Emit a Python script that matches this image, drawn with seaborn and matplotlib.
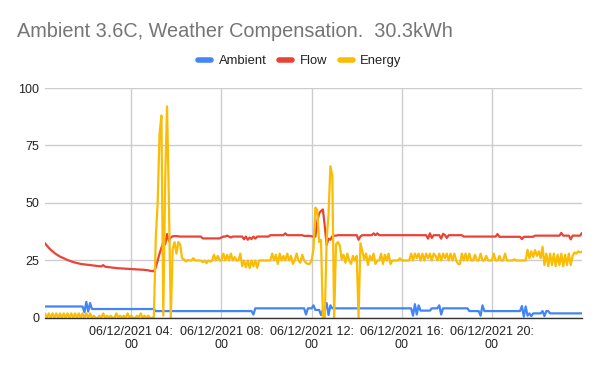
import numpy as np
import pandas as pd
import seaborn as sns
import matplotlib.pyplot as plt

# 5-minute readings from 00:10 to 24:00, one row per clock hour
ambient = [
    5.0, 5.0, 5.0, 5.0, 5.0, 5.0, 5.0, 5.0, 5.0, 5.0,
    5.0, 5.0, 5.0, 5.0, 5.0, 5.0, 5.0, 5.0, 5.0, 5.0, 5.0, 2.5,
    7.0, 2.8, 6.5, 3.9, 3.9, 3.9, 3.9, 3.9, 3.9, 3.9, 3.9, 3.9,
    3.9, 3.9, 3.9, 3.9, 3.9, 3.9, 3.9, 3.9, 3.9, 3.9, 3.9, 3.9,
    3.9, 3.9, 3.9, 3.9, 3.9, 3.9, 3.9, 3.9, 3.9, 3.9, 3.9, 3.9,
    3.9, 3.0, 3.0, 3.0, 3.0, 3.0, 3.0, 3.0, 3.0, 3.0, 3.0, 3.0,
    3.0, 3.0, 3.0, 3.0, 3.0, 3.0, 3.0, 3.0, 3.0, 3.0, 3.0, 3.0,
    3.0, 3.0, 3.0, 3.0, 3.0, 3.0, 3.0, 3.0, 3.0, 3.0, 3.0, 3.0,
    3.0, 3.0, 3.0, 3.0, 3.0, 3.0, 3.0, 3.0, 3.0, 3.0, 3.0, 3.0,
    3.0, 3.0, 3.0, 3.0, 3.0, 1.5, 4.2, 4.2, 4.2, 4.2, 4.2, 4.2,
    4.2, 4.2, 4.2, 4.2, 4.2, 4.2, 4.2, 4.2, 4.2, 4.2, 4.2, 4.2,
    4.2, 4.2, 4.2, 4.2, 4.2, 4.2, 4.2, 4.2, 4.2, 1.5, 4.2, 4.2,
    4.2, 5.5, 3.5, 3.5, 3.5, 1.3, 3.5, 3.5, 6.5, 1.3, 5.5, 4.2,
    4.2, 4.2, 4.2, 4.2, 4.2, 4.2, 4.2, 4.2, 4.2, 4.2, 4.2, 4.2,
    4.2, 4.2, 4.2, 4.2, 4.2, 4.2, 4.2, 4.2, 4.2, 4.2, 4.2, 4.2,
    4.2, 4.2, 4.2, 4.2, 4.2, 4.2, 4.2, 4.2, 4.2, 4.2, 4.2, 4.2,
    4.2, 4.2, 4.2, 4.2, 4.2, 4.2, 1.0, 6.0, 1.5, 5.5, 3.2, 3.2,
    3.2, 3.2, 3.2, 3.2, 4.2, 4.2, 4.2, 4.2, 5.5, 1.5, 4.2, 4.2,
    4.2, 4.2, 4.2, 4.2, 4.2, 4.2, 4.2, 4.2, 4.2, 4.2, 4.2, 4.2,
    3.0, 3.0, 3.0, 3.0, 3.0, 3.0, 1.0, 5.5, 3.0, 3.0, 3.0, 3.0,
    3.0, 3.0, 3.0, 3.0, 3.0, 3.0, 3.0, 3.0, 3.0, 3.0, 3.0, 3.0,
    3.0, 3.0, 3.0, 3.0, 5.2, 0.6, 5.0, 1.0, 2.0, 0.8, 2.0, 2.0,
    2.0, 2.0, 2.0, 3.0, 0.8, 3.0, 3.0, 2.0, 2.0, 2.0, 2.0, 2.0,
    2.0, 2.0, 2.0, 2.0, 2.0, 2.0, 2.0, 2.0, 2.0, 2.0, 2.0, 2.0,
    2.0,
]

flow = [
    32.5, 31.5, 30.5, 29.7, 29.0, 28.3, 27.7, 27.2, 26.7, 26.3,
    26.0, 25.6, 25.2, 24.9, 24.6, 24.3, 24.1, 23.9, 23.7, 23.5, 23.4, 23.3,
    23.2, 23.1, 23.0, 22.9, 22.8, 22.7, 22.6, 22.5, 22.4, 23.0, 22.3, 22.2,
    22.1, 22.0, 21.9, 21.8, 21.7, 21.6, 21.6, 21.5, 21.5, 21.4, 21.4, 21.3,
    21.3, 21.2, 21.2, 21.1, 21.1, 21.0, 21.0, 20.9, 20.8, 20.7, 20.5, 20.4,
    20.3, 22.0, 25.0, 28.0, 30.5, 33.0, 32.0, 36.5, 33.5, 35.0, 35.5, 35.6,
    35.6, 35.5, 35.4, 35.4, 35.4, 35.4, 35.4, 35.4, 35.4, 35.4, 35.4, 35.4,
    35.4, 35.4, 34.6, 34.6, 34.6, 34.6, 34.6, 34.6, 34.6, 34.6, 34.6, 34.6,
    35.0, 35.4, 35.4, 35.8, 35.4, 35.0, 35.4, 35.4, 35.4, 35.4, 35.4, 35.4,
    34.2, 35.4, 34.0, 35.0, 34.3, 35.4, 34.5, 35.4, 35.4, 35.4, 35.4, 35.4,
    35.4, 35.4, 36.0, 36.0, 36.0, 36.0, 36.0, 36.0, 36.0, 36.0, 36.8, 36.0,
    36.0, 36.0, 36.0, 36.0, 36.0, 36.0, 36.0, 36.0, 35.7, 35.7, 35.7, 35.7,
    35.5, 35.4, 35.4, 42.0, 45.5, 46.5, 47.2, 40.0, 31.7, 34.5, 34.0, 35.5,
    35.8, 35.8, 36.0, 36.0, 36.0, 36.0, 36.0, 36.0, 36.0, 36.0, 36.0, 36.0,
    36.0, 34.0, 35.5, 36.0, 36.0, 36.0, 36.0, 36.0, 36.0, 36.8, 36.0, 36.8,
    36.0, 36.0, 36.0, 36.0, 36.0, 36.0, 36.0, 36.0, 36.0, 36.0, 36.0, 36.0,
    36.0, 36.0, 36.0, 36.0, 36.0, 36.0, 36.0, 36.0, 36.0, 36.0, 36.0, 36.0,
    36.0, 36.0, 34.5, 36.8, 34.8, 36.0, 36.0, 36.0, 36.0, 34.5, 36.6, 36.0,
    34.8, 36.0, 36.0, 36.0, 36.0, 36.0, 36.0, 36.0, 36.0, 35.4, 35.4, 35.4,
    35.4, 35.4, 35.4, 35.4, 35.4, 35.4, 35.4, 35.4, 35.4, 35.4, 35.4, 35.4,
    35.4, 35.4, 35.4, 36.5, 35.3, 35.3, 35.3, 35.3, 35.3, 35.3, 35.3, 35.3,
    35.3, 35.3, 35.3, 35.3, 34.3, 35.3, 35.3, 35.3, 35.3, 35.3, 35.3, 35.8,
    35.8, 35.8, 35.8, 35.8, 35.8, 35.8, 35.8, 35.8, 35.8, 35.8, 35.8, 35.8,
    35.8, 37.0, 35.8, 35.8, 35.8, 35.8, 34.2, 35.8, 35.8, 35.8, 35.8, 35.8,
    37.0,
]

energy = [
    2, 0, 2, 0, 2, 0, 2, 0, 2, 0,
    2, 0, 2, 0, 2, 0, 2, 0, 2, 0, 2, 0,
    2, 0, 2, 0, 1, 0, 0, 1, 0, 2, 0, 1,
    0, 1, 0, 0, 2, 0, 1, 0, 1, 0, 2, 0,
    1, 0, 0, 1, 0, 2, 0, 1, 0, 1, 0, 0,
    0.5, 35, 50, 80, 88, 1, 60, 92, 50, 0, 30, 33,
    28, 33, 32, 26, 25.5, 24.6, 25.2, 25, 25, 26, 25, 25,
    25, 25, 24.2, 25, 23.8, 25, 24.5, 25, 27.5, 25, 27, 25,
    25, 28, 25, 27.5, 25, 28, 25, 26.5, 25, 25, 28, 22.5,
    25, 22, 25, 21.7, 25, 22.5, 25, 21.8, 25, 25, 25, 25,
    25, 25, 25, 28, 25, 27.5, 23.5, 28, 25, 27, 25, 28,
    25, 27, 23.5, 25, 28, 25, 24, 27.5, 25, 24, 23.5, 23.5,
    25, 30, 48, 47, 33, 34, 0, 0, 34, 45, 66, 62,
    0, 32, 33, 31.5, 25.5, 27.5, 24, 28, 25, 23.5, 27, 25,
    27, 0, 32.5, 29, 25.5, 28, 23, 27, 25, 28, 23.5, 25,
    25, 28, 23.5, 27.5, 25, 28, 23.5, 25, 25, 25, 25, 26,
    25, 25, 25, 25, 25, 28, 25, 28, 26, 28, 25, 28,
    25, 28, 26, 28, 25, 28, 27, 25, 28, 25, 28, 26,
    28, 25, 28, 25, 28, 25, 23.5, 23.5, 28, 25, 28, 25,
    28, 25, 25, 27.5, 25, 25, 28, 25, 25, 27, 25, 25,
    25, 28, 25, 25, 27, 25, 25, 28, 25, 25, 25, 25,
    25.5, 25, 25, 25, 25, 25, 25, 29.6, 26, 29, 26.5, 29.5,
    27, 29, 26, 31, 23, 28, 22.5, 28, 23, 28, 22.5, 27.5,
    23, 28, 22.5, 27.5, 23, 28, 23, 27, 28.5, 28, 29, 28.5,
    28.8,
]

series_names = ["Ambient", "Flow", "Energy"]
series_colors = ["#4285F4", "#EA4335", "#FBBC04"]
tick_times = ["2021-12-06 04:00", "2021-12-06 08:00", "2021-12-06 12:00",
              "2021-12-06 16:00", "2021-12-06 20:00"]
tick_labels = ["06/12/2021 04:\n00", "06/12/2021 08:\n00", "06/12/2021 12:\n00",
               "06/12/2021 16:\n00", "06/12/2021 20:\n00"]
title = "Ambient 3.6C, Weather Compensation.  30.3kWh"

n = len(ambient)
times = pd.date_range("2021-12-06 00:10", periods=n, freq="5min")
df = pd.DataFrame({
    "time": np.tile(times, 3),
    "value": ambient + flow + energy,
    "series": np.repeat(series_names, n),
})

sns.set_theme(style="white")
plt.rcParams["font.family"] = ["Liberation Sans", "DejaVu Sans"]

fig = plt.figure(figsize=(6, 3.71), dpi=100)
ax = fig.add_axes([0.075, 0.1429, 0.895, 0.6199])

sns.lineplot(data=df, x="time", y="value", hue="series", hue_order=series_names,
             palette=series_colors, linewidth=1.6, estimator=None, ax=ax)

ax.set_xlim(times[0], times[-1])
ax.set_ylim(0, 100)
ax.set_yticks([0, 25, 50, 75, 100])
ax.set_xticks(pd.to_datetime(tick_times))
ax.set_xticklabels(tick_labels, linespacing=1.1)
ax.set_xlabel("")
ax.set_ylabel("")
ax.grid(True, color="#cccccc", linewidth=1)
ax.set_axisbelow(True)
for side in ["top", "right", "left"]:
    ax.spines[side].set_visible(False)
ax.spines["bottom"].set_color("#333333")
ax.spines["bottom"].set_linewidth(1)
ax.tick_params(axis="both", length=0, labelsize=9, colors="#222222")
ax.tick_params(axis="y", pad=4)
ax.tick_params(axis="x", pad=6)

handles, labels = ax.get_legend_handles_labels()
ax.get_legend().remove()
leg = fig.legend(handles, labels, loc="center", bbox_to_anchor=(0.5, 1 - 61 / 371),
                 ncol=3, frameon=False, fontsize=9.4, handlelength=0.95,
                 handletextpad=0.6, columnspacing=1.0)
for line in leg.get_lines():
    line.set_linewidth(4)
for text in leg.get_texts():
    text.set_color("#222222")

fig.text(17 / 600, 1 - 37 / 371, title, fontsize=14.3, color="#757575",
         ha="left", va="baseline")

fig.savefig("out.png", dpi=100)
